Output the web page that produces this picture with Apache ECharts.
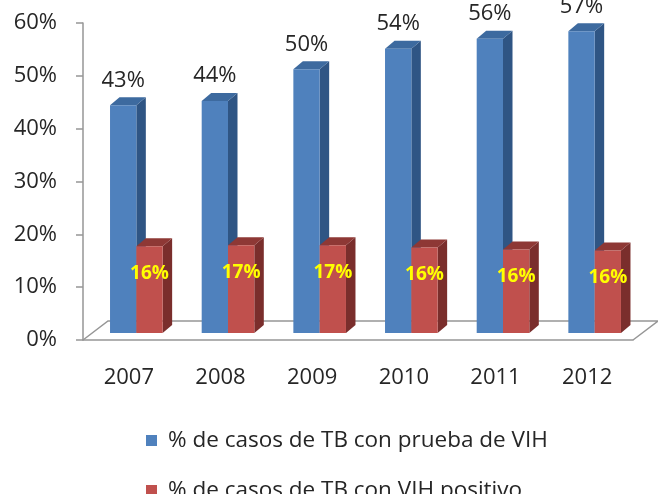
<!DOCTYPE html>
<html>
<head>
<meta charset="utf-8">
<script src="https://cdn.jsdelivr.net/npm/echarts@6/dist/echarts.min.js"></script>
<style>
  html, body { margin: 0; padding: 0; background: #fff; }
  #chart { width: 658px; height: 494px; }
</style>
</head>
<body>
<div id="chart"></div>
<script>
const years = ["2007", "2008", "2009", "2010", "2011", "2012"];
const pruebaVIH = [43.1, 43.9, 49.9, 53.8, 55.7, 57.1];
const vihPositivo = [16.4, 16.6, 16.6, 16.2, 15.8, 15.6];
const seriesNames = ["% de casos de TB con prueba de VIH", "% de casos de TB con VIH positivo"];

const FONT = "'Open Sans', 'Liberation Sans', sans-serif";
// 3d look: bars sit a bit behind the axis plane, and have a depth
const SHIFT_X = 7.5, SHIFT_Y = -7;
const DEPTH_X = 9.5, DEPTH_Y = -8;
const FLOOR_X = 25, FLOOR_Y = -19;

const colors = [
  { front: "#4F81BD", side: "#2F5584", top: "#3D6A9F" },
  { front: "#C0504D", side: "#7A2E2C", top: "#8E3835" }
];

function makeBox(idx) {
  return function (params, api) {
    const cat = api.value(0), val = api.value(1);
    const base = api.coord([cat, 0]);
    const topPt = api.coord([cat, val]);
    const band = api.size([1, 0])[0];
    const w = band * 0.287;
    const x0 = base[0] + (idx === 0 ? -w : 0) + SHIFT_X;
    const x1 = x0 + w;
    const yb = base[1] + SHIFT_Y;
    const yt = topPt[1] + SHIFT_Y;
    const c = colors[idx];
    const children = [
      { type: "polygon", shape: { points: [[x1, yt], [x1 + DEPTH_X, yt + DEPTH_Y], [x1 + DEPTH_X, yb + DEPTH_Y], [x1, yb]] }, style: { fill: c.side } },
      { type: "polygon", shape: { points: [[x0, yt], [x1, yt], [x1 + DEPTH_X, yt + DEPTH_Y], [x0 + DEPTH_X, yt + DEPTH_Y]] }, style: { fill: c.top } },
      { type: "rect", shape: { x: x0, y: yt, width: w, height: yb - yt }, style: { fill: c.front } }
    ];
    const label = Math.round(val) + "%";
    if (idx === 0) {
      children.push({ type: "text", style: { text: label, x: (x0 + x1) / 2, y: yt - 25, align: "center", verticalAlign: "middle", fill: "#262626", fontSize: 22, fontFamily: FONT } });
    } else {
      children.push({ type: "text", style: { text: label, x: (x0 + x1) / 2, y: yt + 27, align: "center", verticalAlign: "middle", fill: "#FFFF00", fontSize: 19, fontWeight: "bold", fontFamily: FONT } });
    }
    return { type: "group", children: children };
  };
}

function renderFloor(params, api) {
  const r = params.coordSys;
  const xl = r.x, xr = r.x + r.width, yb = r.y + r.height;
  return {
    type: "polyline",
    shape: { points: [[xl, yb], [xl + FLOOR_X, yb + FLOOR_Y], [xr + FLOOR_X, yb + FLOOR_Y], [xr, yb]] },
    style: { stroke: "#969696", lineWidth: 1.5, fill: null }
  };
}

const legendText = { fontSize: 22.5, color: "#262626", fontFamily: FONT, padding: [0, 0, 0, 6] };

const chart = echarts.init(document.getElementById("chart"), null, { renderer: "canvas" });
chart.setOption({
  backgroundColor: "#fff",
  animation: false,
  grid: { left: 83, right: 25, top: 23, bottom: 154 },
  legend: [
    {
      left: 141, top: 424, itemWidth: 11, itemHeight: 11, icon: "rect",
      textStyle: legendText,
      data: [{ name: seriesNames[0], itemStyle: { color: colors[0].front } }]
    },
    {
      left: 141, top: 474, itemWidth: 11, itemHeight: 11, icon: "rect",
      textStyle: legendText,
      data: [{ name: seriesNames[1], itemStyle: { color: colors[1].front } }]
    }
  ],
  xAxis: {
    type: "category",
    data: years,
    axisLine: { lineStyle: { color: "#969696", width: 1.5 } },
    axisTick: { length: 7, lineStyle: { color: "#969696", width: 1.5 } },
    axisLabel: { fontSize: 22, color: "#262626", fontFamily: FONT, margin: 27 }
  },
  yAxis: {
    type: "value",
    min: 0,
    max: 60,
    interval: 10,
    axisLine: { show: true, lineStyle: { color: "#969696", width: 1.5 } },
    axisTick: { show: true, length: 7, lineStyle: { color: "#969696", width: 1.5 } },
    splitLine: { show: false },
    axisLabel: { formatter: "{value}%", fontSize: 22, color: "#262626", fontFamily: FONT, margin: 26 }
  },
  series: [
    { type: "custom", name: "floor", silent: true, z: 1, renderItem: renderFloor, data: [[0, 0]] },
    { type: "custom", name: seriesNames[0], z: 2, renderItem: makeBox(0), data: years.map((y, i) => [i, pruebaVIH[i]]) },
    { type: "custom", name: seriesNames[1], z: 3, renderItem: makeBox(1), data: years.map((y, i) => [i, vihPositivo[i]]) }
  ]
});
</script>
</body>
</html>
